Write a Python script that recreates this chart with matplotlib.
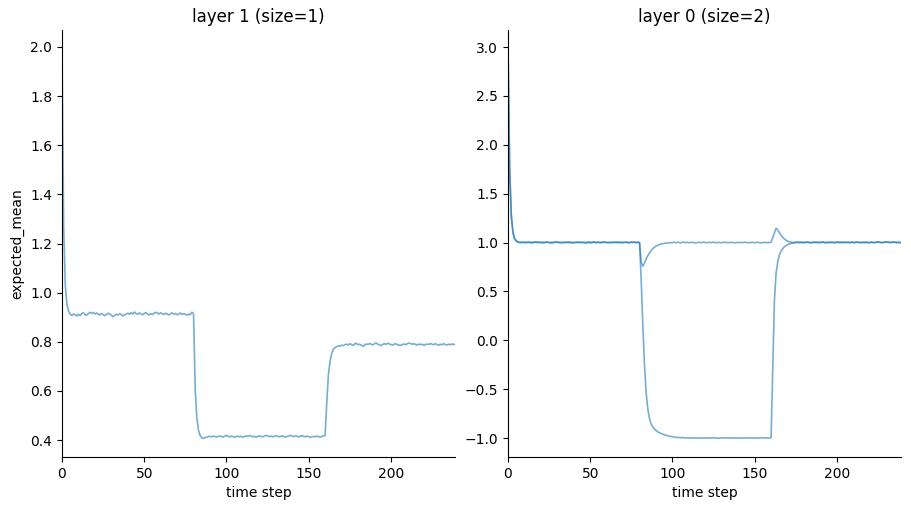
import numpy as np
import matplotlib
matplotlib.use("Agg")
import matplotlib.pyplot as plt

# ---------------- data ----------------
titles = ["layer 1 (size=1)", "layer 0 (size=2)"]
x_label = "time step"
y_label = "expected_mean"

layer1_mean = [
    2.00, 1.27, 1.03, 0.952, 0.925, 0.912, 0.907, 0.913, 0.909, 0.905,
    0.912, 0.906, 0.915, 0.918, 0.910, 0.908, 0.914, 0.920, 0.916, 0.919,
    0.913, 0.917, 0.912, 0.909, 0.915, 0.911, 0.906, 0.911, 0.916, 0.913,
    0.908, 0.902, 0.907, 0.912, 0.909, 0.914, 0.911, 0.905, 0.910, 0.913,
    0.916, 0.912, 0.918, 0.913, 0.921, 0.915, 0.912, 0.917, 0.914, 0.910,
    0.915, 0.919, 0.913, 0.909, 0.914, 0.911, 0.916, 0.920, 0.917, 0.913,
    0.918, 0.914, 0.911, 0.916, 0.913, 0.909, 0.914, 0.918, 0.912, 0.915,
    0.910, 0.913, 0.917, 0.911, 0.915, 0.912, 0.908, 0.913, 0.910, 0.920,
    0.915, 0.61, 0.49, 0.44, 0.418, 0.409, 0.407, 0.410, 0.412, 0.414,
    0.415, 0.413, 0.416, 0.414, 0.412, 0.415, 0.417, 0.414, 0.412, 0.416,
    0.419, 0.415, 0.413, 0.416, 0.414, 0.411, 0.414, 0.416, 0.413, 0.415,
    0.412, 0.414, 0.417, 0.415, 0.418, 0.416, 0.413, 0.415, 0.412, 0.414,
    0.417, 0.415, 0.413, 0.416, 0.419, 0.417, 0.414, 0.416, 0.413, 0.415,
    0.418, 0.416, 0.413, 0.415, 0.417, 0.414, 0.412, 0.415, 0.417, 0.419,
    0.416, 0.414, 0.417, 0.415, 0.413, 0.416, 0.418, 0.415, 0.413, 0.416,
    0.414, 0.411, 0.413, 0.415, 0.413, 0.416, 0.414, 0.412, 0.415, 0.417,
    0.418, 0.55, 0.665, 0.72, 0.752, 0.770, 0.776, 0.780, 0.783, 0.782,
    0.786, 0.784, 0.788, 0.790, 0.787, 0.792, 0.789, 0.785, 0.791, 0.794,
    0.788, 0.790, 0.786, 0.781, 0.787, 0.791, 0.789, 0.793, 0.790, 0.787,
    0.792, 0.795, 0.790, 0.788, 0.784, 0.789, 0.792, 0.790, 0.794, 0.791,
    0.789, 0.786, 0.790, 0.792, 0.788, 0.786, 0.785, 0.789, 0.791, 0.788,
    0.792, 0.795, 0.793, 0.790, 0.792, 0.789, 0.787, 0.791, 0.788, 0.790,
    0.786, 0.788, 0.791, 0.789, 0.793, 0.790, 0.788, 0.792, 0.789, 0.786,
    0.790, 0.788, 0.792, 0.789, 0.787, 0.790, 0.788, 0.791, 0.789, 0.790,
]

layer0_unit0 = [
    3.00, 1.74, 1.27, 1.10, 1.04, 1.015, 1.006, 1.002, 0.998, 1.003,
    1.004, 0.997, 1.006, 1.001, 0.995, 1.003, 1.008, 1.002, 0.998, 1.005,
    0.999, 0.994, 1.001, 1.006, 1.003, 0.997, 1.002, 0.996, 1.004, 1.007,
    1.001, 0.998, 1.003, 0.995, 0.999, 1.005, 1.002, 0.997, 1.004, 1.000,
    0.996, 1.003, 1.007, 1.001, 0.998, 1.004, 0.999, 0.994, 1.002, 1.006,
    1.003, 0.998, 1.001, 1.005, 0.997, 1.002, 0.999, 1.004, 1.008, 1.002,
    0.997, 1.001, 0.996, 1.003, 1.006, 1.000, 0.998, 1.004, 1.001, 0.995,
    1.002, 1.005, 0.999, 1.003, 0.997, 1.001, 1.006, 1.002, 0.998, 1.003,
    1.000, 0.80, 0.758, 0.79, 0.83, 0.865, 0.893, 0.917, 0.936, 0.951,
    0.963, 0.972, 0.979, 0.985, 0.989, 0.992, 0.994, 0.996, 0.998, 0.998,
    0.999, 1.002, 0.998, 1.003, 1.000, 0.997, 1.001, 1.004, 0.999, 1.002,
    0.998, 1.001, 1.003, 0.999, 0.996, 1.000, 1.002, 0.998, 1.001, 1.004,
    1.000, 0.997, 1.002, 0.999, 1.001, 1.003, 0.998, 1.000, 1.002, 0.997,
    1.001, 0.999, 1.003, 1.000, 0.998, 1.002, 0.999, 1.001, 0.997, 1.000,
    1.002, 0.999, 1.001, 0.998, 1.003, 1.000, 0.997, 1.001, 0.999, 1.002,
    0.998, 1.000, 1.002, 0.999, 0.996, 1.000, 1.001, 0.998, 1.000, 1.001,
    1.002, 1.05, 1.10, 1.145, 1.13, 1.10, 1.075, 1.055, 1.038, 1.025,
    1.015, 1.008, 1.004, 1.001, 0.999, 1.002, 1.003, 0.998, 1.005, 1.001,
    0.996, 1.002, 1.006, 0.999, 1.003, 0.997, 1.001, 1.005, 1.002, 0.998,
    1.004, 1.007, 1.001, 0.996, 1.002, 0.999, 1.004, 1.001, 0.997, 1.003,
    1.006, 1.000, 0.995, 1.002, 1.005, 0.999, 1.003, 0.998, 1.001, 1.006,
    1.002, 0.997, 1.003, 1.000, 1.004, 0.998, 1.002, 1.007, 1.001, 0.996,
    1.000, 1.004, 1.002, 0.998, 1.003, 1.006, 1.001, 0.997, 1.002, 1.005,
    1.008, 1.003, 0.999, 1.004, 1.001, 1.006, 1.002, 0.998, 1.001, 1.000,
]

layer0_unit1 = [
    3.00, 1.76, 1.28, 1.11, 1.04, 1.016, 1.005, 0.999, 1.004, 1.001,
    0.998, 1.003, 0.999, 1.005, 1.002, 0.996, 1.001, 1.004, 1.007, 0.999,
    1.002, 1.006, 0.997, 1.000, 1.004, 1.001, 0.995, 1.003, 0.999, 1.002,
    1.006, 1.003, 0.997, 1.001, 1.005, 0.998, 1.002, 1.007, 0.999, 0.996,
    1.003, 1.000, 0.997, 1.004, 1.002, 0.998, 1.005, 1.001, 0.997, 1.000,
    0.996, 1.003, 1.006, 0.999, 1.002, 1.005, 1.001, 0.997, 1.000, 1.004,
    1.002, 0.998, 1.004, 1.001, 0.997, 1.003, 1.006, 0.999, 1.002, 1.005,
    0.998, 1.001, 1.004, 0.997, 1.002, 1.006, 0.999, 1.003, 1.001, 1.004,
    0.998, 0.62, 0.15, -0.25, -0.53, -0.70, -0.80, -0.855, -0.885, -0.907,
    -0.922, -0.935, -0.945, -0.953, -0.960, -0.966, -0.971, -0.976, -0.980, -0.984,
    -0.987, -0.990, -0.992, -0.995, -0.994, -0.997, -0.995, -0.998, -1.000, -0.997,
    -0.999, -1.002, -0.998, -1.000, -0.997, -1.001, -0.999, -1.003, -1.000, -0.998,
    -1.001, -0.997, -0.999, -1.002, -1.000, -0.998, -1.001, -0.999, -1.003, -1.000,
    -0.997, -0.999, -1.001, -0.998, -1.000, -1.002, -0.999, -0.997, -1.000, -1.001,
    -0.998, -1.000, -1.002, -0.999, -1.001, -0.998, -1.000, -0.997, -0.999, -1.002,
    -1.000, -0.998, -1.001, -0.999, -0.996, -0.999, -1.001, -0.998, -1.000, -0.999,
    -0.998, -0.30, 0.40, 0.68, 0.80, 0.87, 0.91, 0.935, 0.955, 0.968,
    0.978, 0.985, 0.990, 0.994, 0.997, 0.999, 1.001, 1.004, 0.997, 1.002,
    1.006, 0.999, 1.003, 1.000, 0.996, 1.002, 1.005, 0.998, 1.001, 1.004,
    0.997, 1.002, 1.006, 1.000, 0.998, 1.003, 0.999, 1.005, 1.002, 0.996,
    1.001, 1.004, 1.007, 1.001, 0.998, 1.003, 1.000, 1.005, 0.997, 1.002,
    0.999, 1.004, 1.006, 1.001, 0.997, 1.003, 1.000, 0.996, 1.002, 1.005,
    0.999, 1.003, 1.001, 0.998, 1.004, 1.002, 1.006, 1.001, 0.998, 1.003,
    1.007, 1.002, 1.004, 0.999, 1.005, 1.002, 0.998, 1.003, 1.001, 0.999,
]

x_ticks = [0, 50, 100, 150, 200]
left_y_ticks = [0.4, 0.6, 0.8, 1.0, 1.2, 1.4, 1.6, 1.8, 2.0]
right_y_ticks = [-1.0, -0.5, 0.0, 0.5, 1.0, 1.5, 2.0, 2.5, 3.0]

# ---------------- plot ----------------
fig = plt.figure(figsize=(9.11, 5.11), dpi=100)
ax1 = fig.add_axes([62 / 911, 1 - 457 / 511, (455 - 62) / 911, (457 - 30) / 511])
ax2 = fig.add_axes([508 / 911, 1 - 457 / 511, (901 - 508) / 911, (457 - 30) / 511])

line_kw = dict(color="C0", alpha=0.6, lw=1.2)

ax1.plot(np.arange(len(layer1_mean)), layer1_mean, **line_kw)
ax2.plot(np.arange(len(layer0_unit0)), layer0_unit0, **line_kw)
ax2.plot(np.arange(len(layer0_unit1)), layer0_unit1, **line_kw)

for ax, title, yt in zip([ax1, ax2], titles, [left_y_ticks, right_y_ticks]):
    ax.set_title(title, fontsize=12)
    ax.set_xlabel(x_label, fontsize=10)
    ax.set_xlim(0, 239)
    ax.set_xticks(x_ticks)
    ax.set_yticks(yt)
    ax.spines["top"].set_visible(False)
    ax.spines["right"].set_visible(False)

ax1.set_ylim(0.331, 2.069)
ax2.set_ylim(-1.194, 3.174)
ax1.set_ylabel(y_label, fontsize=10)

fig.savefig("out.png", dpi=100)
